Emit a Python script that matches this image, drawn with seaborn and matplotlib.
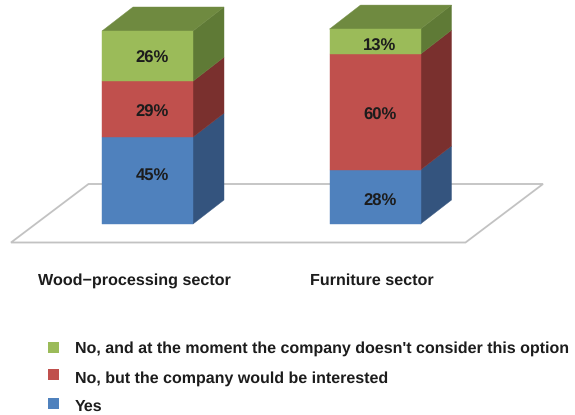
import matplotlib
matplotlib.use("Agg")
import matplotlib.pyplot as plt
from matplotlib.patches import Polygon, Rectangle
import seaborn as sns

sns.set_theme(style="white")
plt.rcParams["font.family"] = ["Liberation Sans", "DejaVu Sans"]
plt.rcParams["text.hinting"] = "no_hinting"

sectors = ["Wood\u2212processing sector", "Furniture sector"]
yes_share = [45, 28]
interested_share = [29, 60]
not_considered_share = [26, 13]
series_names = [
    "Yes",
    "No, but the company would be interested",
    "No, and at the moment the company doesn't consider this option",
]
front_colors = ["#4f81bd", "#c0504d", "#9bbb59"]
side_colors = ["#34547e", "#7a302e", "#5f7a36"]
top_color = "#6f8a40"
text_color = "#1c1c1c"

W, H = 575, 415
PX_X = 227.5   # pixels between the two columns
PX_Y = 1.93    # pixels per percentage point
X0, Y0 = 147.5, 224  # pixel position of the first column's base centre
DEPTH_X, DEPTH_Y = 31 / PX_X, 24 / PX_Y

# Vertical nudge (pixels, downward) of each value label, per layer then column
LABEL_NUDGE = [[-4.5, 4.5], [3, 3], [2, 4.5]]
LABEL_SHIFT_X = 5  # value labels sit right of the front face centre


def px(x, y):
    """Convert figure pixels (origin top left) to data coordinates."""
    return (x - X0) / PX_X, (Y0 - y) / PX_Y


fig = plt.figure(figsize=(W / 100, H / 100), dpi=100)
ax = fig.add_axes([0, 0, 1, 1])

# Stacked front faces
bottoms = [0, 0]
stack = [yes_share, interested_share, not_considered_share]
for values, color in zip(stack, front_colors):
    sns.barplot(x=sectors, y=values, bottom=bottoms, color=color, width=0.4,
                saturation=1, ax=ax, zorder=3, edgecolor=color, linewidth=0.3)
    bottoms = [b + v for b, v in zip(bottoms, values)]

ax.set_xlim(px(0, 0)[0], px(W, 0)[0])
ax.set_ylim(px(0, H)[1], px(0, 0)[1])
ax.axis("off")

# Floor of the 3D scene
floor = [px(11, 242.5), px(465.5, 242.5), px(543, 184), px(88.5, 184)]
ax.add_patch(Polygon(floor, closed=True, facecolor="white", edgecolor="#c2c2c2",
                     linewidth=1.3, zorder=1))

# Side and top faces built from the bar rectangles
n_cats = len(sectors)
for i, bar in enumerate(ax.patches[:3 * n_cats]):
    layer = i // n_cats
    col = i % n_cats
    x1 = bar.get_x() + bar.get_width()
    x0 = bar.get_x()
    y0 = bar.get_y()
    y1 = y0 + bar.get_height()
    side = [(x1, y0), (x1 + DEPTH_X, y0 + DEPTH_Y), (x1 + DEPTH_X, y1 + DEPTH_Y), (x1, y1)]
    ax.add_patch(Polygon(side, closed=True, facecolor=side_colors[layer],
                         edgecolor=side_colors[layer], linewidth=0.3, zorder=2))
    if layer == 2:
        top = [(x0, y1), (x1, y1), (x1 + DEPTH_X, y1 + DEPTH_Y), (x0 + DEPTH_X, y1 + DEPTH_Y)]
        ax.add_patch(Polygon(top, closed=True, facecolor=top_color,
                             edgecolor=top_color, linewidth=0.3, zorder=2))
    ax.text(x0 + bar.get_width() / 2 + LABEL_SHIFT_X / PX_X,
            y0 + bar.get_height() / 2 - LABEL_NUDGE[layer][col] / PX_Y,
            f"{stack[layer][col]}%", ha="center", va="center",
            fontsize=12, fontweight="bold", color=text_color, zorder=5)

# Category captions
for name, cx in zip(sectors, [134, 371.5]):
    ax.text(*px(cx, 280.7), name, ha="center", va="center",
            fontsize=11.6, fontweight="bold", color=text_color)

# Legend, top entry first
for name, color, ys, yt in zip(series_names[::-1], front_colors[::-1],
                               [347, 374, 403], [349, 379, 407]):
    x_a, y_a = px(48, ys + 5.5)
    x_b, y_b = px(59, ys - 5.5)
    ax.add_patch(Rectangle((x_a, y_a), x_b - x_a, y_b - y_a, facecolor=color,
                           edgecolor="none"))
    ax.text(*px(75, yt), name, ha="left", va="center",
            fontsize=11.5, fontweight="bold", color=text_color)

fig.savefig("out.png", dpi=100)
